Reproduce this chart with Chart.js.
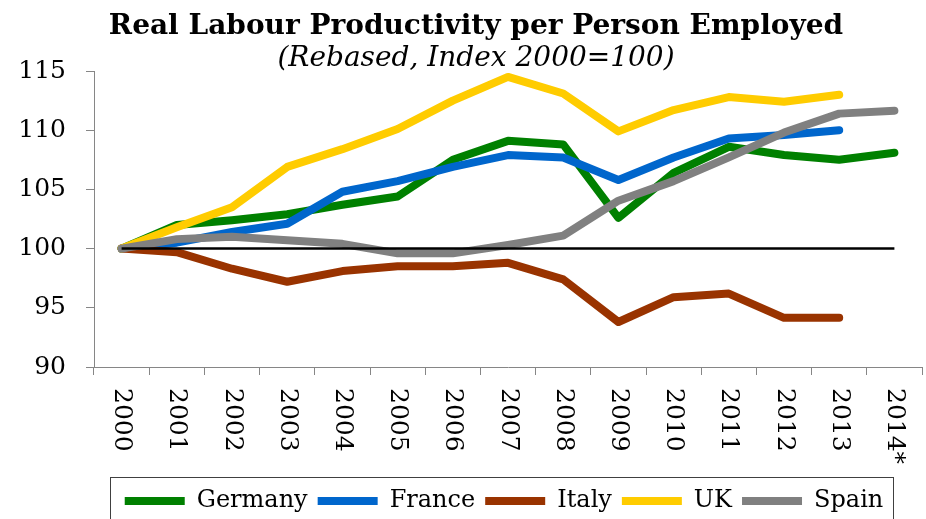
<!DOCTYPE html>
<html lang="en">
<head>
    <meta charset="UTF-8">
    <title>Real Labour Productivity per Person Employed</title>
    <style>
        body {
            margin: 0;
            background-color: #fff;
        }
        canvas {
            display: block;
        }
    </style>
</head>
<body>
    <canvas id="prodChart" width="926" height="519"></canvas>

    <script src="https://cdn.jsdelivr.net/npm/chart.js"></script>
    <script>
        // Datos (índice 2000 = 100)
        const years = ['2000', '2001', '2002', '2003', '2004', '2005', '2006', '2007',
                       '2008', '2009', '2010', '2011', '2012', '2013', '2014*'];
        const germany = [100, 102.0, 102.4, 102.9, 103.7, 104.4, 107.5, 109.1, 108.8, 102.6, 106.4, 108.6, 107.9, 107.5, 108.1];
        const france  = [100, 100.5, 101.4, 102.1, 104.8, 105.7, 106.9, 107.9, 107.7, 105.8, 107.7, 109.3, 109.6, 110.0, null];
        const italy   = [100, 99.7, 98.3, 97.2, 98.1, 98.5, 98.5, 98.8, 97.4, 93.8, 95.9, 96.2, 94.15, 94.15, null];
        const uk      = [100, 101.8, 103.5, 106.9, 108.4, 110.1, 112.5, 114.5, 113.1, 109.9, 111.7, 112.8, 112.4, 113.0, null];
        const spain   = [100, 100.8, 101.0, 100.7, 100.4, 99.6, 99.6, 100.3, 101.1, 104.05, 105.7, 107.7, 109.8, 111.4, 111.65];
        const baseLine = [100, 100, 100, 100, 100, 100, 100, 100, 100, 100, 100, 100, 100, 100, 100];
        const yTicks = [90, 95, 100, 105, 110, 115];

        const serif = '"DejaVu Serif", serif';
        const axisGrey = '#868686';

        function series(label, data, color) {
            return {
                label: label,
                data: data,
                borderColor: color,
                backgroundColor: color,
                borderWidth: 8,
                borderCapStyle: 'round',
                borderJoinStyle: 'round',
                pointRadius: 0,
                tension: 0,
                fill: false
            };
        }

        // Etiquetas del eje X giradas (se leen de arriba a abajo)
        const yearLabels = {
            id: 'yearLabels',
            afterDraw(chart) {
                const sc = chart.scales.x;
                const ctx = chart.ctx;
                ctx.save();
                ctx.font = '25px ' + serif;
                ctx.fillStyle = '#000';
                ctx.textAlign = 'left';
                ctx.textBaseline = 'middle';
                years.forEach((lab, i) => {
                    ctx.save();
                    ctx.translate(sc.getPixelForTick(i), sc.top + 21);
                    ctx.rotate(Math.PI / 2);
                    ctx.fillText(lab, 0, 0);
                    ctx.restore();
                });
                ctx.restore();
            }
        };

        // Marco de la leyenda + ajustes de posición
        const legendFrame = {
            id: 'legendFrame',
            afterLayout(chart) {
                const y = chart.scales.y;
                y.left = 0;
                y.width = y.right;
                const lg = chart.legend;
                lg.left -= 4;
                lg.right -= 4;
                lg.top += 4;
                lg.bottom += 4;
            },
            afterDraw(chart) {
                const boxes = chart.legend.legendHitBoxes;
                if (!boxes || !boxes.length) return;
                const last = boxes[boxes.length - 1];
                const left = Math.round(boxes[0].left - 15) + 0.5;
                const right = Math.round(last.left + last.width + 10) + 0.5;
                const top = Math.round(boxes[0].top - 12) + 0.5;
                const ctx = chart.ctx;
                ctx.save();
                ctx.strokeStyle = '#404040';
                ctx.lineWidth = 1;
                ctx.strokeRect(left, top, right - left, chart.height);
                ctx.restore();
            }
        };

        const ctx = document.getElementById('prodChart').getContext('2d');
        new Chart(ctx, {
            type: 'line',
            data: {
                labels: years,
                // el primero se dibuja encima
                datasets: [
                    {
                        label: 'base',
                        data: baseLine,
                        borderColor: '#000',
                        borderWidth: 2.5,
                        pointRadius: 0,
                        fill: false
                    },
                    series('Spain', spain, '#808080'),
                    series('UK', uk, '#FFCC00'),
                    series('Italy', italy, '#993300'),
                    series('France', france, '#0066CC'),
                    series('Germany', germany, '#008000')
                ]
            },
            options: {
                responsive: false,
                animation: false,
                layout: {
                    padding: { left: 30, right: 4, top: 0, bottom: 0 }
                },
                scales: {
                    x: {
                        offset: true,
                        grid: {
                            offset: true,
                            drawOnChartArea: false,
                            drawTicks: true,
                            tickLength: 8,
                            color: axisGrey
                        },
                        border: { color: axisGrey, width: 1 },
                        ticks: { display: false },
                        afterFit(scale) { scale.height = 108; }
                    },
                    y: {
                        min: 90,
                        max: 115,
                        afterBuildTicks(scale) {
                            scale.ticks = yTicks.map(v => ({ value: v }));
                        },
                        grid: {
                            drawOnChartArea: false,
                            drawTicks: true,
                            tickLength: 8,
                            color: axisGrey
                        },
                        border: { color: axisGrey, width: 1 },
                        ticks: {
                            color: '#000',
                            padding: 20,
                            font: { family: serif, size: 25 }
                        },
                        afterFit(scale) { scale.width = 64; }
                    }
                },
                plugins: {
                    title: {
                        display: true,
                        text: 'Real Labour Productivity per Person Employed',
                        color: '#000',
                        font: { family: serif, size: 28, weight: 'bold', lineHeight: 1.2 },
                        padding: { top: 9.7, bottom: 0 }
                    },
                    subtitle: {
                        display: true,
                        text: '(Rebased, Index 2000=100)',
                        color: '#000',
                        font: { family: serif, size: 28, style: 'italic', lineHeight: 1.2 },
                        padding: { top: -1.6, bottom: -4.3 }
                    },
                    legend: {
                        position: 'bottom',
                        fullSize: false,
                        reverse: true,
                        labels: {
                            filter: item => item.text !== 'base',
                            usePointStyle: true,
                            pointStyle: 'line',
                            pointStyleWidth: 60,
                            color: '#000',
                            padding: 10,
                            font: { family: serif, size: 24 }
                        }
                    },
                    tooltip: { enabled: false }
                }
            },
            plugins: [yearLabels, legendFrame]
        });
    </script>
</body>
</html>
